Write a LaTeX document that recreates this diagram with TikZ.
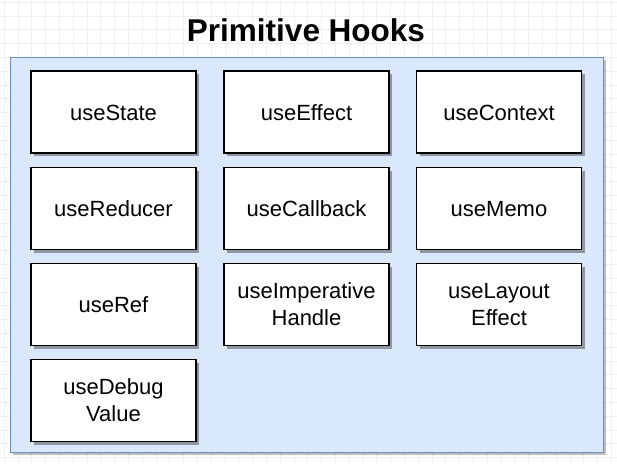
\documentclass[tikz,border=0pt]{standalone}
\usepackage{fontspec}
\setmainfont{Liberation Sans}
\usetikzlibrary{shadows}
\definecolor{contfill}{HTML}{DAE8FC}
\definecolor{contdraw}{HTML}{6C8EBF}
\definecolor{gridc}{HTML}{EFEFEF}
\begin{document}
\begin{tikzpicture}[x=1pt,y=-1pt,
  hook/.style={draw=black, line width=1.1pt, fill=white, minimum width=165pt, minimum height=82pt,
    align=center, inner sep=0pt, font=\fontsize{22}{27}\selectfont,
    drop shadow={shadow xshift=3pt, shadow yshift=-3pt, fill=black, opacity=0.35}},
  oneline/.style={hook, text height=19pt, text depth=3pt},
  container/.style={draw=contdraw, line width=0.9pt, fill=contfill,
    drop shadow={shadow xshift=3pt, shadow yshift=-3pt, fill=black, opacity=0.25}},
  gridline/.style={draw=gridc, line width=0.6pt}]
\useasboundingbox (0,0) rectangle (617,463);
\fill[white] (0,0) rectangle (617,463);
\foreach \i in {0,...,45} {\draw[gridline] (4+\i*13.8,0) -- (4+\i*13.8,463);}
\foreach \j in {0,...,34} {\draw[gridline] (0,2+\j*13.8) -- (617,2+\j*13.8);}
\node[font=\bfseries\fontsize{31.5}{36}\selectfont] (title) at (306,30) {Primitive Hooks};
\path[container] (10,57) rectangle (603,452);
\node[oneline] (state)    at (113.5,112) {useState};
\node[oneline] (effect)   at (306.5,112) {useEffect};
\node[oneline] (context)  at (499,112)   {useContext};
\node[oneline] (reducer)  at (113.5,208.5) {useReducer};
\node[oneline] (callback) at (306.5,208.5) {useCallback};
\node[oneline] (memo)     at (499,208.5)   {useMemo};
\node[oneline] (ref)      at (113.5,304.5) {useRef};
\node[hook] (imper)    at (306.5,304.5) {\rule{0pt}{3pt}useImperative\\Handle};
\node[hook] (layout)   at (499,304.5)   {\rule{0pt}{3pt}useLayout\\Effect};
\node[hook] (debug)    at (113.5,400.5) {\rule{0pt}{3pt}useDebug\\Value};
\end{tikzpicture}
\end{document}
